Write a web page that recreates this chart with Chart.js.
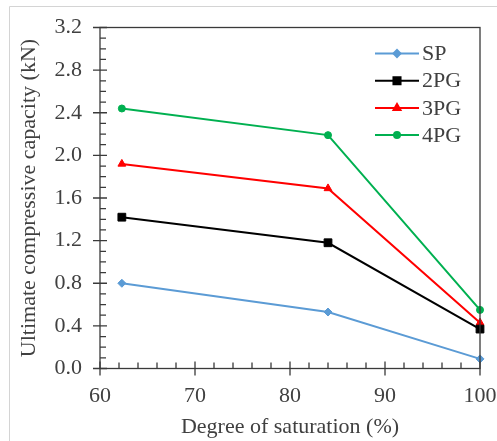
<!DOCTYPE html>
<html>
<head>
<meta charset="utf-8">
<script src="https://cdn.jsdelivr.net/npm/chart.js@4/dist/chart.umd.min.js"></script>
<style>
  html, body { margin: 0; padding: 0; background: #fff; }
  #wrap { width: 497px; height: 441px; position: relative; }
</style>
</head>
<body>
<div id="wrap"><canvas id="capacityChart"></canvas></div>
<script>
// degree of saturation (%) for each test series
const saturation = [62.3, 84.0, 100];
const seriesNames = ['SP', '2PG', '3PG', '4PG'];
const sp = [0.80, 0.53, 0.09];
const pg2 = [1.42, 1.18, 0.37];
const pg3 = [1.92, 1.69, 0.43];
const pg4 = [2.44, 2.19, 0.55];
const xTicks = [60, 70, 80, 90, 100];
const yTicks = [0.0, 0.4, 0.8, 1.2, 1.6, 2.0, 2.4, 2.8, 3.2];

const serif = "'Liberation Serif', 'Times New Roman', serif";
const textColor = '#404040';
const axisColor = '#3a3a3a';

function toPoints(values) {
    return values.map((v, i) => ({ x: saturation[i], y: v }));
}

const styles = [
    { color: '#5b9bd5', pointStyle: 'rectRot', radius: 4 },
    { color: '#000000', pointStyle: 'rect', radius: 5.5 },
    { color: '#ff0000', pointStyle: 'triangle', radius: 4.5 },
    { color: '#00b050', pointStyle: 'circle', radius: 3.5 }
];

const datasets = [sp, pg2, pg3, pg4].map((values, i) => ({
    label: seriesNames[i],
    data: toPoints(values),
    borderColor: styles[i].color,
    backgroundColor: styles[i].color,
    pointStyle: styles[i].pointStyle,
    pointRadius: styles[i].radius,
    pointBorderWidth: 1,
    borderWidth: 2,
    tension: 0,
    clip: false
}));

// the plot box is placed by layout.padding only, not by label overhang
function noOverhang(scale) {
    scale.paddingLeft = 0;
    scale.paddingRight = 0;
    scale.paddingTop = 0;
    scale.paddingBottom = 0;
}

// outer frame, plot box and the crossing / inner tick marks
const axisDecor = {
    id: 'axisDecor',
    beforeDraw(chart) {
        const ctx = chart.ctx;
        ctx.save();
        ctx.fillStyle = '#fff';
        ctx.fillRect(0, 0, chart.width, chart.height);
        ctx.strokeStyle = '#d4d4d4';
        ctx.lineWidth = 1;
        ctx.beginPath();
        ctx.moveTo(9.5, chart.height);
        ctx.lineTo(9.5, 6.5);
        ctx.lineTo(chart.width, 6.5);
        ctx.stroke();
        ctx.restore();
    },
    afterDraw(chart) {
        const ctx = chart.ctx;
        const a = chart.chartArea;
        const xs = chart.scales.x;
        const ys = chart.scales.y;
        ctx.save();
        ctx.strokeStyle = axisColor;
        ctx.lineWidth = 1.3;
        ctx.strokeRect(a.left, a.top, a.right - a.left, a.bottom - a.top);

        ctx.beginPath();
        ys.ticks.forEach((t, i) => {
            const y = ys.getPixelForValue(t.value);
            ctx.moveTo(a.left - 7, y);
            ctx.lineTo(a.left + 7, y);
            if (i < ys.ticks.length - 1) {
                for (let k = 1; k < 4; k++) {
                    const ym = ys.getPixelForValue(t.value + k * 0.1);
                    ctx.moveTo(a.left, ym);
                    ctx.lineTo(a.left + 6, ym);
                }
            }
        });
        xs.ticks.forEach((t, i) => {
            const x = xs.getPixelForValue(t.value);
            ctx.moveTo(x, a.bottom + 7);
            ctx.lineTo(x, a.bottom - 7);
            if (i < xs.ticks.length - 1) {
                for (let k = 1; k < 5; k++) {
                    const xm = xs.getPixelForValue(t.value + k * 2);
                    ctx.moveTo(xm, a.bottom);
                    ctx.lineTo(xm, a.bottom - 6);
                }
            }
        });
        ctx.stroke();
        ctx.restore();
    }
};

// legend drawn inside the plot, line with marker in the middle
const innerLegend = {
    id: 'innerLegend',
    afterDraw(chart) {
        const ctx = chart.ctx;
        const a = chart.chartArea;
        const x0 = a.right - 105;
        const x1 = a.right - 61;
        ctx.save();
        ctx.font = '22px ' + serif;
        ctx.textBaseline = 'middle';
        ctx.textAlign = 'left';
        chart.data.datasets.forEach((ds, i) => {
            const y = a.top + 26 + i * 27.2;
            ctx.strokeStyle = ds.borderColor;
            ctx.lineWidth = 2;
            ctx.beginPath();
            ctx.moveTo(x0, y);
            ctx.lineTo(x1, y);
            ctx.stroke();
            ctx.fillStyle = ds.backgroundColor;
            Chart.helpers.drawPoint(ctx, {
                pointStyle: ds.pointStyle,
                radius: ds.pointRadius - 0.5,
                rotation: 0,
                borderWidth: 1
            }, (x0 + x1) / 2, y);
            ctx.fill();
            ctx.fillStyle = textColor;
            ctx.fillText(ds.label, x1 + 3, y + 1);
        });
        ctx.restore();
    }
};

new Chart(document.getElementById('capacityChart'), {
    type: 'line',
    data: { datasets: datasets },
    plugins: [axisDecor, innerLegend],
    options: {
        responsive: true,
        maintainAspectRatio: false,
        animation: false,
        layout: { padding: { left: 0, right: 17, top: 27.5, bottom: 0 } },
        plugins: {
            legend: { display: false },
            tooltip: { enabled: false }
        },
        scales: {
            x: {
                type: 'linear',
                min: 60,
                max: 100,
                afterBuildTicks(scale) {
                    scale.ticks = xTicks.map(v => ({ value: v }));
                },
                afterFit(scale) {
                    scale.height = 72.5;
                    noOverhang(scale);
                },
                grid: { display: false, drawTicks: false },
                border: { display: false },
                ticks: {
                    padding: 15,
                    color: textColor,
                    font: { family: serif, size: 22 },
                    maxRotation: 0
                },
                title: {
                    display: true,
                    text: 'Degree of saturation (%)',
                    color: textColor,
                    font: { family: serif, size: 22 },
                    padding: { top: 0, bottom: 1 }
                }
            },
            y: {
                min: 0,
                max: 3.2,
                afterBuildTicks(scale) {
                    scale.ticks = yTicks.map(v => ({ value: v }));
                },
                afterFit(scale) {
                    scale.width = 100;
                    noOverhang(scale);
                },
                grid: { display: false, drawTicks: false },
                border: { display: false },
                ticks: {
                    padding: 18,
                    color: textColor,
                    font: { family: serif, size: 22 },
                    callback: v => v.toFixed(1)
                },
                title: {
                    display: true,
                    text: 'Ultimate compressive capacity (kN)',
                    color: textColor,
                    font: { family: serif, size: 22 },
                    padding: { top: 16, bottom: 0 }
                }
            }
        }
    }
});
</script>
</body>
</html>
